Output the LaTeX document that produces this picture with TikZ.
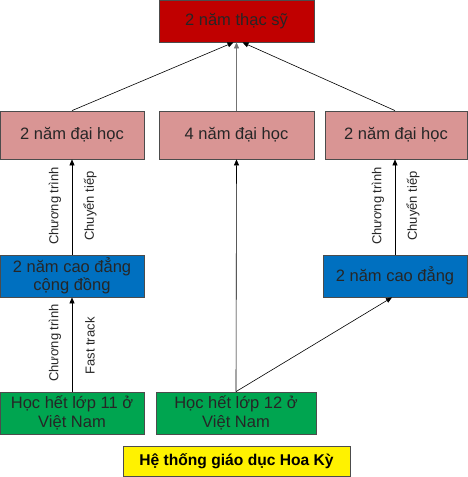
\documentclass[tikz,border=0pt]{standalone}
\usepackage{fontspec}
\setmainfont{Liberation Sans}
\usetikzlibrary{arrows.meta}
\definecolor{dred}{HTML}{C00000}
\definecolor{pinkb}{HTML}{D99594}
\definecolor{blueb}{HTML}{0070C0}
\definecolor{greenb}{HTML}{00A550}
\tikzset{
 box/.style={draw=black!70, line width=0.8pt, inner sep=0pt, align=center, font=\fontsize{16.5}{18.5}\selectfont, text=black!85},
 arr/.style={-{Triangle[length=6pt,width=5pt]}, line width=0.6pt},
 lab/.style={rotate=90, font=\fontsize{13}{15}\selectfont, inner sep=0pt, text=black!85}
}
\begin{document}
\begin{tikzpicture}[x=1pt,y=-1pt]
\useasboundingbox (0,0) rectangle (468,477);
\node[box, fill=dred, minimum width=155pt, minimum height=42pt] (ms) at (236.5,21) {2 năm thạc sỹ};
\node[box, fill=pinkb, minimum width=144pt, minimum height=48pt] (u1) at (72,135) {2 năm đại học};
\node[box, fill=pinkb, minimum width=155pt, minimum height=48pt] (u2) at (236.5,135) {4 năm đại học};
\node[box, fill=pinkb, minimum width=142pt, minimum height=48pt] (u3) at (396,135) {2 năm đại học};
\node[box, fill=blueb, minimum width=144pt, minimum height=42pt] (c1) at (72,276) {2 năm cao đẳng\\cộng đồng};
\node[box, fill=blueb, minimum width=144pt, minimum height=42pt] (c2) at (395,276) {2 năm cao đẳng};
\node[box, fill=greenb, minimum width=144pt, minimum height=42pt] (h1) at (72,413) {Học hết lớp 11 ở\\Việt Nam};
\node[box, fill=greenb, minimum width=160pt, minimum height=42pt] (h2) at (236,413) {Học hết lớp 12 ở\\Việt Nam};
\node[box, fill=yellow, minimum width=227pt, minimum height=30pt, font=\bfseries\fontsize{15.6}{17.5}\selectfont, text=black] (us) at (236.5,461) {Hệ thống giáo dục Hoa Kỳ};
% arrows to master
\draw[arr] (u1.north) -- ([xshift=-3pt]ms.south);
\draw[arr, draw=black!55] (u2.north) -- (ms.south);
\draw[arr] ([xshift=-1pt]u3.north) -- ([xshift=6pt]ms.south);
% left column
\draw[arr] (c1.north) -- (u1.south);
\draw[arr] (h1.north) -- (c1.south);
% middle
\draw[arr] (h2.north) -- (u2.south);
\draw[arr] (h2.north) -- ([xshift=-3pt]c2.south);
% right column
\draw[arr] (c2.north) -- ([xshift=-1pt]u3.south);
% labels
\node[lab] (l1) at (55,206) {Chương trình};
\node[lab] (l2) at (90,206) {Chuyển tiếp};
\node[lab] (l3) at (378,206) {Chương trình};
\node[lab] (l4) at (413,206) {Chuyển tiếp};
\node[lab] (l5) at (55,343) {Chương trình};
\node[lab] (l6) at (90,346) {Fast track};
\end{tikzpicture}
\end{document}
